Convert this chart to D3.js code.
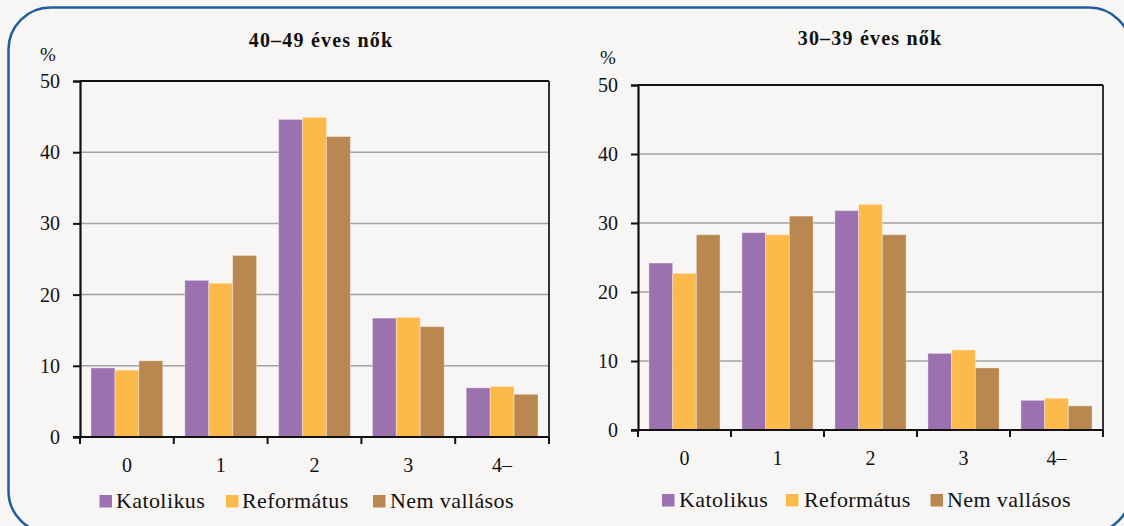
<!DOCTYPE html>
<html>
<head>
<meta charset="utf-8">
<script src="https://cdn.jsdelivr.net/npm/d3@7/dist/d3.min.js"></script>
<style>
  html, body { margin: 0; padding: 0; background: #f7f6f4; }
  svg { display: block; }
</style>
</head>
<body>
<svg id="chart" width="1124" height="526"></svg>
<script>
// ---- data ----
const categories = ["0", "1", "2", "3", "4–"];
const seriesNames = ["Katolikus", "Református", "Nem vallásos"];
const yTicks = [0, 10, 20, 30, 40, 50];

const katolikus4049   = [9.7, 22.0, 44.6, 16.7, 6.9];
const reformatus4049  = [9.4, 21.6, 44.9, 16.8, 7.1];
const nemVallasos4049 = [10.7, 25.5, 42.2, 15.5, 6.0];

const katolikus3039   = [24.2, 28.6, 31.8, 11.1, 4.3];
const reformatus3039  = [22.7, 28.3, 32.7, 11.6, 4.6];
const nemVallasos3039 = [28.3, 31.0, 28.3, 9.0, 3.5];

const titles = ["40–49 éves nők", "30–39 éves nők"];

// ---- styling / layout ----
const FONT = "'Liberation Serif', 'Times New Roman', serif";
const colors = ["#9b71b0", "#fdb94a", "#b9874f"];
const svg = d3.select("#chart");

// outer rounded frame
svg.append("rect")
  .attr("x", 8.5).attr("y", 7.5)
  .attr("width", 1122.5).attr("height", 525.5)
  .attr("rx", 42).attr("ry", 42)
  .attr("fill", "#f7f6f4")
  .attr("stroke", "#1f5e9e").attr("stroke-width", 2.5);

const panels = [
  { data: [katolikus4049, reformatus4049, nemVallasos4049], title: titles[0],
    x0: 80, x1: 549, yTop: 81, yBot: 437, titleX: 321, titleY: 47,
    pctX: 48, pctY: 61, legendY: 508, legendX: [99.5, 226, 373], textX: [116, 242, 390] },
  { data: [katolikus3039, reformatus3039, nemVallasos3039], title: titles[1],
    x0: 638, x1: 1103, yTop: 85, yBot: 430, titleX: 870, titleY: 45,
    pctX: 608, pctY: 64, legendY: 507, legendX: [662, 786, 930.5], textX: [679, 804, 947] }
];

panels.forEach(p => {
  const g = svg.append("g");
  const y = d3.scaleLinear().domain([0, 50]).range([p.yBot, p.yTop]);
  const x = d3.scaleBand().domain(categories).range([p.x0, p.x1])
    .paddingInner(0.235).paddingOuter(0.1175);
  const xs = d3.scaleBand().domain(seriesNames).range([0, x.bandwidth()]);
  const step = (p.x1 - p.x0) / categories.length;

  // gridlines
  g.selectAll("line.grid").data(yTicks.filter(t => t > 0 && t < 50)).join("line")
    .attr("x1", p.x0).attr("x2", p.x1)
    .attr("y1", d => y(d)).attr("y2", d => y(d))
    .attr("stroke", "#a3a3a3").attr("stroke-width", 1.5);

  // bars
  seriesNames.forEach((s, si) => {
    g.selectAll("rect.s" + si).data(p.data[si]).join("rect")
      .attr("x", (d, i) => x(categories[i]) + xs(s))
      .attr("y", d => y(d))
      .attr("width", xs.bandwidth())
      .attr("height", d => y(0) - y(d))
      .attr("fill", colors[si])
      .attr("stroke", "#ffffff").attr("stroke-opacity", 0.35).attr("stroke-width", 1);
  });

  // plot frame: top & right
  g.append("line").attr("x1", p.x0).attr("x2", p.x1).attr("y1", p.yTop).attr("y2", p.yTop)
    .attr("stroke", "#111").attr("stroke-width", 2);
  g.append("line").attr("x1", p.x1).attr("x2", p.x1).attr("y1", p.yTop).attr("y2", p.yBot)
    .attr("stroke", "#333").attr("stroke-width", 2);

  // y axis
  const yAxis = d3.axisLeft(y).tickValues(yTicks).tickSize(7).tickPadding(13);
  const ya = g.append("g").attr("transform", `translate(${p.x0},0)`).call(yAxis);
  ya.select(".domain").attr("stroke", "#111").attr("stroke-width", 2.2);
  ya.selectAll(".tick line").attr("stroke", "#111").attr("stroke-width", 2);
  ya.selectAll(".tick text").style("font-size", "20px")
    .style("font-family", FONT).attr("fill", "#111");

  // x axis line with ticks at category boundaries
  g.append("line").attr("x1", p.x0 - 7).attr("x2", p.x1).attr("y1", p.yBot).attr("y2", p.yBot)
    .attr("stroke", "#111").attr("stroke-width", 2.2);
  g.selectAll("line.xt").data(d3.range(categories.length + 1)).join("line")
    .attr("x1", i => p.x0 + i * step).attr("x2", i => p.x0 + i * step)
    .attr("y1", p.yBot).attr("y2", p.yBot + 7)
    .attr("stroke", "#111").attr("stroke-width", 2);
  g.selectAll("text.xl").data(categories).join("text")
    .attr("x", d => x(d) + x.bandwidth() / 2)
    .attr("y", p.yBot + 35)
    .attr("text-anchor", "middle")
    .style("font-family", FONT).style("font-size", "20px").attr("fill", "#111")
    .text(d => d);

  // title
  g.append("text").attr("x", p.titleX).attr("y", p.titleY)
    .attr("text-anchor", "middle")
    .style("font-family", FONT).style("font-size", "20px").style("font-weight", "bold")
    .style("letter-spacing", "1.2px").attr("fill", "#111")
    .text(p.title);

  // %
  g.append("text").attr("x", p.pctX).attr("y", p.pctY)
    .attr("text-anchor", "middle")
    .style("font-family", FONT).style("font-size", "19px").attr("fill", "#111")
    .text("%");

  // legend
  seriesNames.forEach((s, si) => {
    g.append("rect").attr("x", p.legendX[si]).attr("y", p.legendY - 13)
      .attr("width", 12.5).attr("height", 12.5).attr("fill", colors[si]);
    g.append("text").attr("x", p.textX[si]).attr("y", p.legendY)
      .style("font-family", FONT).style("font-size", "22px").style("letter-spacing", "0.4px")
      .attr("fill", "#111")
      .text(s);
  });
});
</script>
</body>
</html>
